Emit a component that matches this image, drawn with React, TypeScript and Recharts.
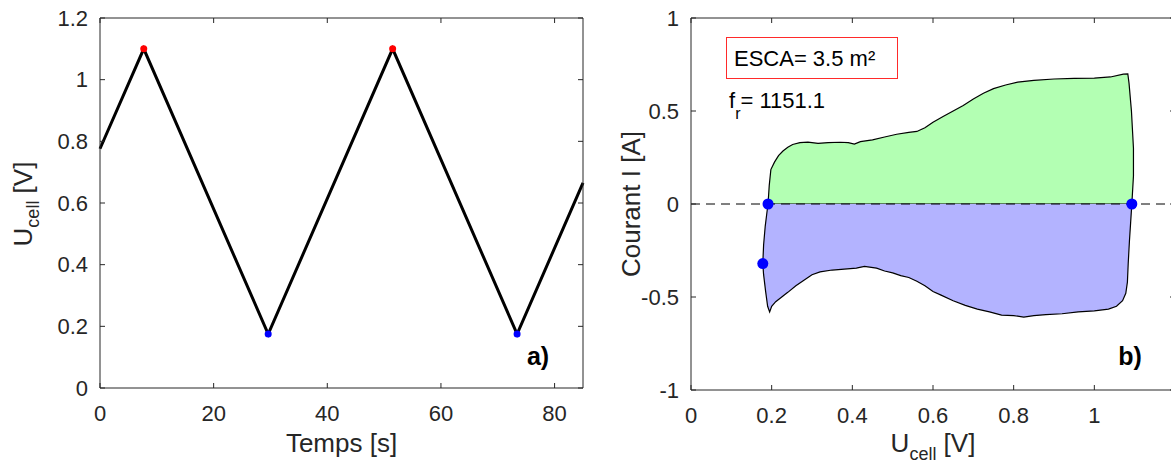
import React from "react";
import { ComposedChart, Line, Area, Scatter, XAxis, YAxis, ReferenceLine } from "recharts";

// a) cell voltage vs time (triangle wave vertices)
const TIME_S = [0, 7.7, 29.6, 51.5, 73.4, 85];
const U_CELL = [0.776, 1.1, 0.175, 1.1, 0.175, 0.665];
const PEAK_T = [7.7, 51.5];
const PEAK_U = [1.1, 1.1];
const TROUGH_T = [29.6, 73.4];
const TROUGH_U = [0.175, 0.175];
const TIME_TICKS = [0, 20, 40, 60, 80];
const U_TICKS = [0, 0.2, 0.4, 0.6, 0.8, 1, 1.2];

// b) cyclic voltammogram, anodic (upper) branch
const UP_U = [0.191, 0.194, 0.198, 0.207, 0.217, 0.228, 0.24, 0.252, 0.27, 0.29, 0.315, 0.34, 0.37, 0.39, 0.405, 0.42, 0.45, 0.48, 0.51, 0.54, 0.56, 0.58, 0.6, 0.625, 0.65, 0.675, 0.7, 0.725, 0.75, 0.78, 0.81, 0.85, 0.9, 0.95, 1.0, 1.04, 1.072, 1.083, 1.086, 1.092, 1.097, 1.097, 1.093, 0.191];
const UP_I = [0, 0.1, 0.185, 0.225, 0.26, 0.285, 0.305, 0.32, 0.33, 0.333, 0.326, 0.33, 0.332, 0.33, 0.322, 0.335, 0.345, 0.36, 0.375, 0.385, 0.39, 0.41, 0.44, 0.47, 0.5, 0.53, 0.565, 0.595, 0.62, 0.64, 0.655, 0.665, 0.672, 0.675, 0.677, 0.683, 0.698, 0.7, 0.65, 0.5, 0.3, 0.15, 0, 0];
// cathodic (lower) branch
const DOWN_U = [1.093, 1.09, 1.087, 1.084, 1.082, 1.078, 1.07, 1.055, 1.035, 1.0, 0.96, 0.92, 0.88, 0.85, 0.825, 0.8, 0.77, 0.74, 0.71, 0.68, 0.65, 0.62, 0.6, 0.58, 0.56, 0.54, 0.52, 0.5, 0.48, 0.46, 0.43, 0.41, 0.38, 0.35, 0.32, 0.3, 0.28, 0.26, 0.24, 0.225, 0.21, 0.2, 0.195, 0.19, 0.185, 0.18, 0.178, 0.18, 0.184, 0.188, 0.191];
const DOWN_I = [0, -0.1, -0.2, -0.32, -0.42, -0.48, -0.52, -0.55, -0.565, -0.575, -0.58, -0.59, -0.595, -0.6, -0.608, -0.6, -0.597, -0.58, -0.565, -0.545, -0.52, -0.49, -0.47, -0.44, -0.415, -0.395, -0.385, -0.37, -0.36, -0.345, -0.335, -0.345, -0.35, -0.355, -0.365, -0.38, -0.41, -0.44, -0.475, -0.5, -0.525, -0.55, -0.58, -0.55, -0.47, -0.38, -0.32, -0.22, -0.12, -0.05, 0];
const MARK_U = [0.191, 1.093, 0.178];
const MARK_I = [0, 0, -0.32];
const CV_U_TICKS = [0, 0.2, 0.4, 0.6, 0.8, 1];
const CV_U_TICKS_TOP = [0, 0.2, 0.4, 0.6, 0.8, 1, 1.2];
const CV_I_TICKS = [-1, -0.5, 0, 0.5, 1];

const pts = (xs: number[], ys: number[]) => xs.map((x, i) => ({ x, y: ys[i] }));

const voltage = pts(TIME_S, U_CELL);
const peaks = pts(PEAK_T, PEAK_U);
const troughs = pts(TROUGH_T, TROUGH_U);
const upper = pts(UP_U, UP_I);
const lower = pts(DOWN_U, DOWN_I);
const marks = pts(MARK_U, MARK_I);

const FONT = "'Liberation Sans', Arial, sans-serif";
const AXIS = "#262626";
const tickStyle = { fontSize: 22, fill: AXIS, fontFamily: FONT };
const blank = () => "";

const dot = (color: string, r: number) => (p: any) => <circle cx={p.cx} cy={p.cy} r={r} fill={color} />;

function VoltageChart() {
  return (
    <ComposedChart width={600} height={473} margin={{ top: 18, right: 17, left: 40, bottom: 45 }} style={{ fontFamily: FONT }}>
      <XAxis dataKey="x" type="number" domain={[0, 85]} ticks={TIME_TICKS} interval={0} height={40}
        tickSize={-5} tickMargin={22} tick={tickStyle} axisLine={{ stroke: AXIS }} tickLine={{ stroke: AXIS }}
        label={{ content: ({ viewBox }: any) => (
          <text x={viewBox.x + viewBox.width / 2} y={452} textAnchor="middle" fontSize={26} fill={AXIS}>Temps [s]</text>
        ) }} />
      <XAxis xAxisId="top" dataKey="x" type="number" orientation="top" mirror domain={[0, 85]} ticks={TIME_TICKS}
        interval={0} height={10} tickSize={5} tickFormatter={blank} axisLine={{ stroke: AXIS }} tickLine={{ stroke: AXIS }} allowDataOverflow />
      <YAxis type="number" domain={[0, 1.2]} ticks={U_TICKS} interval={0} width={60}
        tickSize={-5} tickMargin={17} tick={tickStyle} axisLine={{ stroke: AXIS }} tickLine={{ stroke: AXIS }}
        label={{ content: () => (
          <text transform="translate(32,204) rotate(-90)" textAnchor="middle" fontSize={26} fill={AXIS}>
            U<tspan fontSize={18} dy={7}>cell</tspan><tspan dy={-7}> [V]</tspan>
          </text>
        ) }} />
      <YAxis yAxisId="right" type="number" orientation="right" mirror domain={[0, 1.2]} ticks={U_TICKS} interval={0}
        width={10} tickSize={5} tickFormatter={blank} axisLine={{ stroke: AXIS }} tickLine={{ stroke: AXIS }} allowDataOverflow />
      <Line data={voltage} dataKey="y" type="linear" stroke="#000" strokeWidth={3} dot={false} isAnimationActive={false} />
      <Scatter data={peaks} dataKey="y" shape={dot("#ff0000", 3.5)} isAnimationActive={false} />
      <Scatter data={troughs} dataKey="y" shape={dot("#0000ff", 3.5)} isAnimationActive={false} />
    </ComposedChart>
  );
}

function VoltammogramChart() {
  return (
    <ComposedChart width={600} height={473} margin={{ top: 18, right: 25, left: 31, bottom: 43 }} style={{ fontFamily: FONT }}>
      <XAxis dataKey="x" type="number" domain={[0, 1.2]} ticks={CV_U_TICKS} interval={0} height={40}
        tickSize={-5} tickMargin={22} tick={tickStyle} axisLine={{ stroke: AXIS }} tickLine={{ stroke: AXIS }}
        label={{ content: () => (
          <text x={333} y={452} textAnchor="middle" fontSize={26} fill={AXIS}>
            U<tspan fontSize={18} dy={8}>cell</tspan><tspan dy={-8}> [V]</tspan>
          </text>
        ) }} />
      <XAxis xAxisId="top" dataKey="x" type="number" orientation="top" mirror domain={[0, 1.2]} ticks={CV_U_TICKS_TOP}
        interval={0} height={10} tickSize={5} tickFormatter={blank} axisLine={{ stroke: AXIS }} tickLine={{ stroke: AXIS }} allowDataOverflow />
      <YAxis type="number" domain={[-1, 1]} ticks={CV_I_TICKS} interval={0} width={60}
        tickSize={-5} tickMargin={17} tick={tickStyle} axisLine={{ stroke: AXIS }} tickLine={{ stroke: AXIS }}
        label={{ content: () => (
          <text transform="translate(40,204) rotate(-90)" textAnchor="middle" fontSize={26} fill={AXIS}>Courant I [A]</text>
        ) }} />
      <YAxis yAxisId="right" type="number" orientation="right" mirror domain={[-1, 1]} ticks={CV_I_TICKS} interval={0}
        width={10} tickSize={5} tickFormatter={blank} axisLine={{ stroke: AXIS }} tickLine={{ stroke: AXIS }} allowDataOverflow />
      <ReferenceLine y={0} stroke="#000" strokeWidth={1} strokeDasharray="9 6" />
      <Area data={upper} dataKey="y" type="linear" baseValue={0} fill="#b3ffb3" fillOpacity={1} stroke="#000" strokeWidth={1.2} dot={false} activeDot={false} isAnimationActive={false} />
      <Area data={lower} dataKey="y" type="linear" baseValue={0} fill="#b3b3ff" fillOpacity={1} stroke="#000" strokeWidth={1.2} dot={false} activeDot={false} isAnimationActive={false} />
      <Scatter data={marks} dataKey="y" shape={dot("#0000ff", 5.5)} isAnimationActive={false} />
    </ComposedChart>
  );
}

export default function App() {
  return (
    <div style={{ position: "absolute", left: 0, top: 0, width: 1171, height: 473, overflow: "hidden", background: "#fff", fontFamily: FONT }}>
      <div style={{ position: "absolute", left: 0, top: 0 }}>
        <VoltageChart />
      </div>
      <div style={{ position: "absolute", left: 600, top: 0 }}>
        <VoltammogramChart />
      </div>
      <svg width={1171} height={473} style={{ position: "absolute", left: 0, top: 0, pointerEvents: "none", fontFamily: FONT }}>
        <rect x={726.5} y={37.5} width={171} height={41} fill="#fff" stroke="#ff2a2a" strokeWidth={1} />
        <text x={734} y={66} fontSize={22} fill="#000">ESCA= 3.5 m²</text>
        <text x={729} y={108} fontSize={22} fill="#000">
          f<tspan fontSize={16} dy={11}>r</tspan><tspan dy={-11}>= 1151.1</tspan>
        </text>
        <text x={538} y={365} fontSize={25} fontWeight="bold" textAnchor="middle" fill="#000">a)</text>
        <text x={1130} y={365} fontSize={25} fontWeight="bold" textAnchor="middle" fill="#000">b)</text>
      </svg>
    </div>
  );
}
